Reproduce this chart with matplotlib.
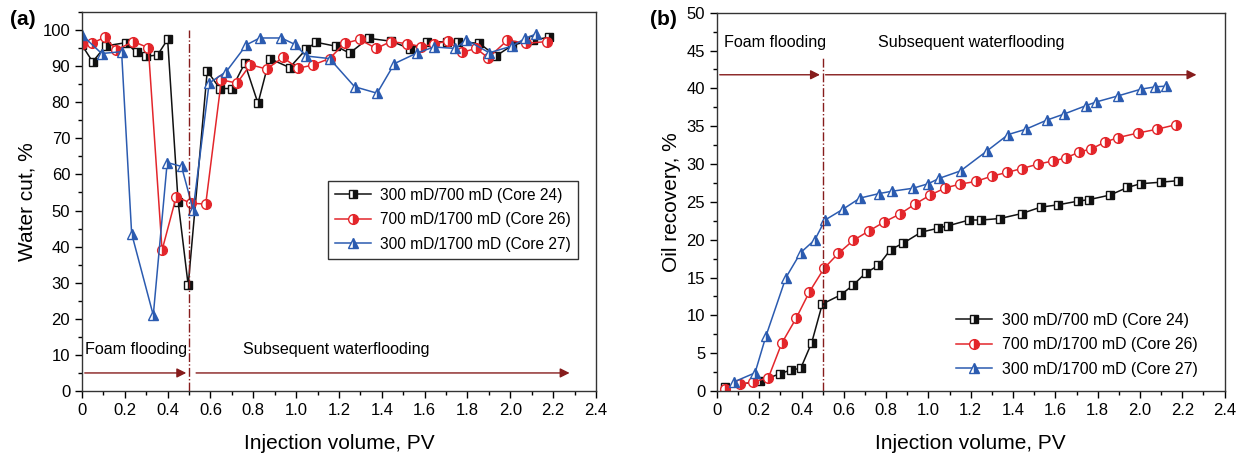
import matplotlib.pyplot as plt
from matplotlib.ticker import MultipleLocator

plt.rcParams['font.family'] = ['Liberation Sans', 'DejaVu Sans']

labels = ['300 mD/700 mD (Core 24)', '700 mD/1700 mD (Core 26)', '300 mD/1700 mD (Core 27)']

# (a) water cut
pv24_a = [0, 0.05, 0.11, 0.205, 0.255, 0.30, 0.353, 0.40, 0.449, 0.496, 0.585, 0.643, 0.70, 0.76,
          0.822, 0.876, 0.97, 1.047, 1.094, 1.187, 1.25, 1.338, 1.444, 1.533, 1.61, 1.705, 1.756,
          1.856, 1.933, 2.01, 2.104, 2.18]
wc24 = [95.8, 91.2, 95.6, 96.5, 93.8, 92.7, 93.1, 97.4, 52.4, 29.3, 88.7, 83.8, 83.8, 90.8,
        79.7, 92.1, 89.6, 94.7, 96.6, 95.5, 93.6, 97.7, 96.9, 94.8, 96.6, 96.8, 96.8,
        96.3, 92.8, 95.8, 97.2, 98.0]
pv26_a = [0, 0.045, 0.107, 0.16, 0.24, 0.31, 0.374, 0.44, 0.51, 0.578, 0.651, 0.724, 0.786, 0.862,
          0.939, 1.008, 1.078, 1.156, 1.226, 1.296, 1.374, 1.442, 1.52, 1.584, 1.646, 1.708, 1.773,
          1.84, 1.897, 1.987, 2.073, 2.17]
wc26 = [96.0, 96.3, 98.0, 94.5, 96.8, 95.1, 39.0, 53.8, 52.0, 51.8, 86.2, 85.3, 90.4, 89.2,
        92.4, 89.4, 90.3, 92.1, 96.3, 97.4, 94.9, 96.8, 96.2, 95.4, 96.1, 97.0, 93.8,
        94.9, 92.3, 97.2, 96.3, 96.8]
pv27_a = [0, 0.092, 0.185, 0.232, 0.333, 0.398, 0.465, 0.519, 0.594, 0.674, 0.768, 0.83, 0.931,
          0.995, 1.047, 1.156, 1.273, 1.378, 1.459, 1.563, 1.643, 1.744, 1.794, 1.902, 2.01, 2.07, 2.12]
wc27 = [98.6, 93.5, 94.0, 43.6, 21.0, 63.3, 62.2, 50.2, 85.3, 88.5, 95.9, 97.8, 97.8,
        96.0, 92.8, 92.1, 84.3, 82.5, 90.7, 93.6, 95.3, 94.9, 97.3, 93.7, 95.6, 97.7, 98.9]

# (b) oil recovery
pv24_b = [0.038, 0.203, 0.30, 0.348, 0.396, 0.448, 0.498, 0.585, 0.644, 0.703, 0.763, 0.821, 0.878,
          0.966, 1.043, 1.094, 1.192, 1.25, 1.338, 1.44, 1.53, 1.61, 1.708, 1.76, 1.858, 1.94,
          2.003, 2.098, 2.18]
or24 = [0.57, 1.3, 2.3, 2.77, 3.0, 6.4, 11.5, 12.7, 14.0, 15.6, 16.6, 18.7, 19.5,
        21.0, 21.5, 21.85, 22.6, 22.6, 22.8, 23.45, 24.3, 24.6, 25.1, 25.3, 25.9, 26.9,
        27.4, 27.6, 27.8]
pv26_b = [0.038, 0.109, 0.172, 0.243, 0.306, 0.374, 0.437, 0.506, 0.574, 0.644, 0.718, 0.788,
          0.865, 0.936, 1.008, 1.08, 1.15, 1.224, 1.299, 1.373, 1.44, 1.52, 1.587, 1.649, 1.713,
          1.77, 1.834, 1.897, 1.99, 2.08, 2.17]
or26 = [0.26, 0.88, 1.2, 1.75, 6.3, 9.6, 13.1, 16.2, 18.2, 19.9, 21.15, 22.3,
        23.4, 24.7, 25.9, 26.85, 27.35, 27.7, 28.4, 28.9, 29.4, 30.0, 30.4, 30.8, 31.6,
        32.0, 32.9, 33.5, 34.1, 34.6, 35.2]
pv27_b = [0.08, 0.18, 0.232, 0.326, 0.396, 0.463, 0.511, 0.594, 0.676, 0.767, 0.826, 0.927, 0.999,
          1.05, 1.152, 1.275, 1.377, 1.46, 1.559, 1.64, 1.743, 1.792, 1.895, 2.005, 2.071, 2.121]
or27 = [1.2, 2.4, 7.3, 15.0, 18.3, 20.0, 22.6, 24.0, 25.5, 26.1, 26.4, 26.8, 27.4,
        28.1, 29.1, 31.7, 33.9, 34.6, 35.8, 36.6, 37.7, 38.2, 39.0, 39.9, 40.2, 40.3]

black, red, blue = '#111111', '#e3262b', '#2b5bb0'
darkred = '#861c1c'
styles = [dict(color=black, marker='s', ms=6, mec=black, mfc=black),
          dict(color=red, marker='o', ms=7, mec=red, mfc=red),
          dict(color=blue, marker='^', ms=7.5, mec=blue, mfc=blue)]

fig = plt.figure(figsize=(12.4, 4.63), dpi=100)
ax1 = fig.add_axes([0.0661, 0.1555, 0.4145, 0.8186])
ax2 = fig.add_axes([0.5782, 0.1555, 0.4094, 0.8170])

for (x, y), st, lab in zip([(pv24_a, wc24), (pv26_a, wc26), (pv27_a, wc27)], styles, labels):
    ax1.plot(x, y, lw=1.1, fillstyle='right', markerfacecoloralt='white', mew=1.0, label=lab, **st)
for (x, y), st, lab in zip([(pv24_b, or24), (pv26_b, or26), (pv27_b, or27)], styles, labels):
    ax2.plot(x, y, lw=1.1, fillstyle='right', markerfacecoloralt='white', mew=1.0, label=lab, **st)

# stage markers
ax1.plot([0.5, 0.5], [0, 100], color=darkred, lw=1, ls='-.')
ax1.annotate('', xy=(0.5, 5), xytext=(0, 5),
             arrowprops=dict(arrowstyle='-|>', color=darkred, lw=1, mutation_scale=14))
ax1.annotate('', xy=(2.29, 5), xytext=(0.52, 5),
             arrowprops=dict(arrowstyle='-|>', color=darkred, lw=1, mutation_scale=14))
ax1.text(0.012, 11.5, 'Foam flooding', fontsize=11.6, va='center')
ax1.text(0.75, 11.5, 'Subsequent waterflooding', fontsize=11.6, va='center')

ax2.plot([0.5, 0.5], [0, 44], color=darkred, lw=1, ls='-.')
ax2.annotate('', xy=(0.5, 41.8), xytext=(0, 41.8),
             arrowprops=dict(arrowstyle='-|>', color=darkred, lw=1, mutation_scale=14))
ax2.annotate('', xy=(2.28, 41.8), xytext=(0.5, 41.8),
             arrowprops=dict(arrowstyle='-|>', color=darkred, lw=1, mutation_scale=14))
ax2.text(0.033, 46.0, 'Foam flooding', fontsize=11.6, va='center')
ax2.text(0.76, 46.0, 'Subsequent waterflooding', fontsize=11.6, va='center')

ax1.set_xlim(0, 2.4)
ax1.set_ylim(0, 105)
ax1.set_yticks(range(0, 101, 10))
ax1.yaxis.set_minor_locator(MultipleLocator(5))
ax1.set_ylabel('Water cut, %', fontsize=15)

ax2.set_xlim(0, 2.4)
ax2.set_ylim(0, 50)
ax2.set_yticks(range(0, 51, 5))
ax2.yaxis.set_minor_locator(MultipleLocator(2.5))
ax2.set_ylabel('Oil recovery, %', fontsize=15)

for ax in (ax1, ax2):
    ax.set_xticks([i * 0.2 for i in range(13)])
    ax.set_xticklabels(['0'] + ['%.1f' % (i * 0.2) for i in range(1, 13)])
    ax.xaxis.set_minor_locator(MultipleLocator(0.1))
    ax.set_xlabel('Injection volume, PV', fontsize=15, labelpad=12)
    ax.tick_params(which='major', direction='out', length=5, width=1, labelsize=12, top=False, right=False)
    ax.tick_params(which='minor', direction='out', length=3, width=1)
    for sp in ax.spines.values():
        sp.set_linewidth(1.0)
        sp.set_color('#333333')

leg1 = ax1.legend(loc='upper right', bbox_to_anchor=(0.98, 0.575), fontsize=11.2, frameon=True,
                  fancybox=False, edgecolor='black', handlelength=2.3, handletextpad=0.6,
                  borderpad=0.45, labelspacing=0.6)
leg1.get_frame().set_linewidth(1.0)
ax2.legend(loc='lower right', bbox_to_anchor=(0.975, 0.0), fontsize=11.4, frameon=False,
           handlelength=2.3, handletextpad=0.6, labelspacing=0.6)

fig.text(0.008, 0.945, '(a)', fontsize=15, fontweight='bold')
fig.text(0.524, 0.945, '(b)', fontsize=15, fontweight='bold')

fig.savefig('out.png', dpi=100)
